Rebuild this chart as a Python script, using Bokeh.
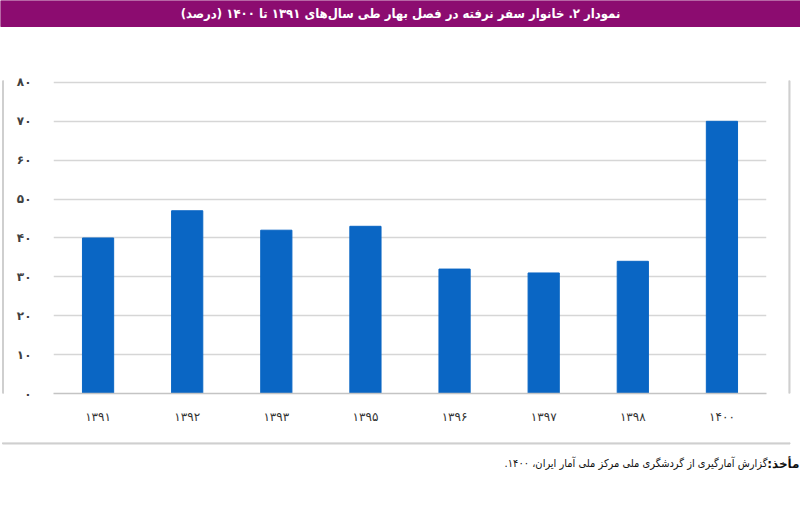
from bokeh.plotting import figure
from bokeh.layouts import column, row
from bokeh.models import FixedTicker, Range1d
from bokeh.embed import file_html
from bokeh.resources import INLINE
from bokeh.core.properties import value

# ---- data ----
years = ["۱۳۹۱", "۱۳۹۲", "۱۳۹۳", "۱۳۹۵", "۱۳۹۶", "۱۳۹۷", "۱۳۹۸", "۱۴۰۰"]
shares = [40, 47, 42, 43, 32, 31, 34, 70]
y_ticks = [0, 10, 20, 30, 40, 50, 60, 70, 80]
y_tick_labels = ["۰", "۱۰", "۲۰", "۳۰", "۴۰", "۵۰", "۶۰", "۷۰", "۸۰"]
title_text = "نمودار ۲. خانوار سفر نرفته در فصل بهار طی سال‌های ۱۳۹۱ تا ۱۴۰۰ (درصد)\u200f"
source_label = "مأخذ:\u200f"
source_text = "گزارش آمارگیری از گردشگری ملی مرکز ملی آمار ایران، ۱۴۰۰.\u200f"

FONT = "DejaVu Sans"
W = 800
BORDER = "#cfcfcf"
PURPLE = "#8c0c70"


def blank(w, h):
    f = figure(width=w, height=h, x_range=Range1d(0, w), y_range=Range1d(h, 0),
               output_backend="svg", toolbar_location=None,
               x_axis_location=None, y_axis_location=None, min_border=0)
    f.xgrid.visible = False
    f.ygrid.visible = False
    f.outline_line_color = None
    f.background_fill_color = "white"
    f.border_fill_color = "white"
    return f


# ---- banner (ref y 0..57) ----
top = blank(W, 57)
top.quad(left=[0], right=[W], top=[0], bottom=[26], color=PURPLE)
top.text(x=[400], y=[13], text=[title_text], text_align="center",
         text_baseline="middle", text_color="white",
         text_font=value("DejaVu Sans Condensed"),
         text_font_size="13px", text_font_style="bold")

# ---- main chart (ref y 57..442, x 4..788) ----
MH = 385
MW = 784
p = figure(width=MW, height=MH, x_range=years, y_range=Range1d(0, 80.5),
           output_backend="svg", toolbar_location=None,
           min_border_left=49, min_border_right=22,
           min_border_top=23, min_border_bottom=49)
p.outline_line_color = None
p.background_fill_color = "white"
p.border_fill_color = "white"

p.vbar(x=years, top=shares, width=0.35, color="#0a66c4")

p.xgrid.grid_line_color = None
p.ygrid.grid_line_color = "#d6d6d6"
p.ygrid.grid_line_width = 1.5
p.ygrid.ticker = FixedTicker(ticks=y_ticks)

ya = p.yaxis[0]
ya.ticker = FixedTicker(ticks=y_ticks)
ya.major_label_overrides = {t: l for t, l in zip(y_ticks, y_tick_labels)}
ya.axis_line_color = None
ya.major_tick_line_color = None
ya.minor_tick_line_color = None
ya.major_label_standoff = 16
ya.major_label_text_font = FONT
ya.major_label_text_font_size = "12px"
ya.major_label_text_font_style = "bold"
ya.major_label_text_color = "#404040"

xa = p.xaxis[0]
xa.axis_line_color = "#c4c4c4"
xa.axis_line_width = 1.5
xa.major_tick_line_color = None
xa.minor_tick_line_color = None
xa.major_label_standoff = 10
xa.major_label_text_font = FONT
xa.major_label_text_font_size = "12px"
xa.major_label_text_color = "#333333"

left_strip = blank(4, MH)
left_strip.quad(left=[2], right=[3.5], top=[0], bottom=[MH], color=BORDER)
right_strip = blank(W - 4 - MW, MH)
right_strip.quad(left=[0], right=[1.5], top=[0], bottom=[MH], color=BORDER)

# ---- source (ref y 442..505) ----
bot = blank(W, 63)
bot.quad(left=[2], right=[789.5], top=[0], bottom=[1.5], color=BORDER)
bot.text(x=[799], y=[21], text=[source_label], text_align="right",
         text_baseline="middle", text_color="#111111", text_font=value(FONT),
         text_font_size="12px", text_font_style="bold")
bot.text(x=[767], y=[21], text=[source_text], text_align="right",
         text_baseline="middle", text_color="#111111",
         text_font=value("DejaVu Sans Condensed"), text_font_size="11px")

layout = column(top, row(left_strip, p, right_strip, spacing=0), bot, spacing=0)

open("out.html", "w").write(file_html(layout, INLINE))
